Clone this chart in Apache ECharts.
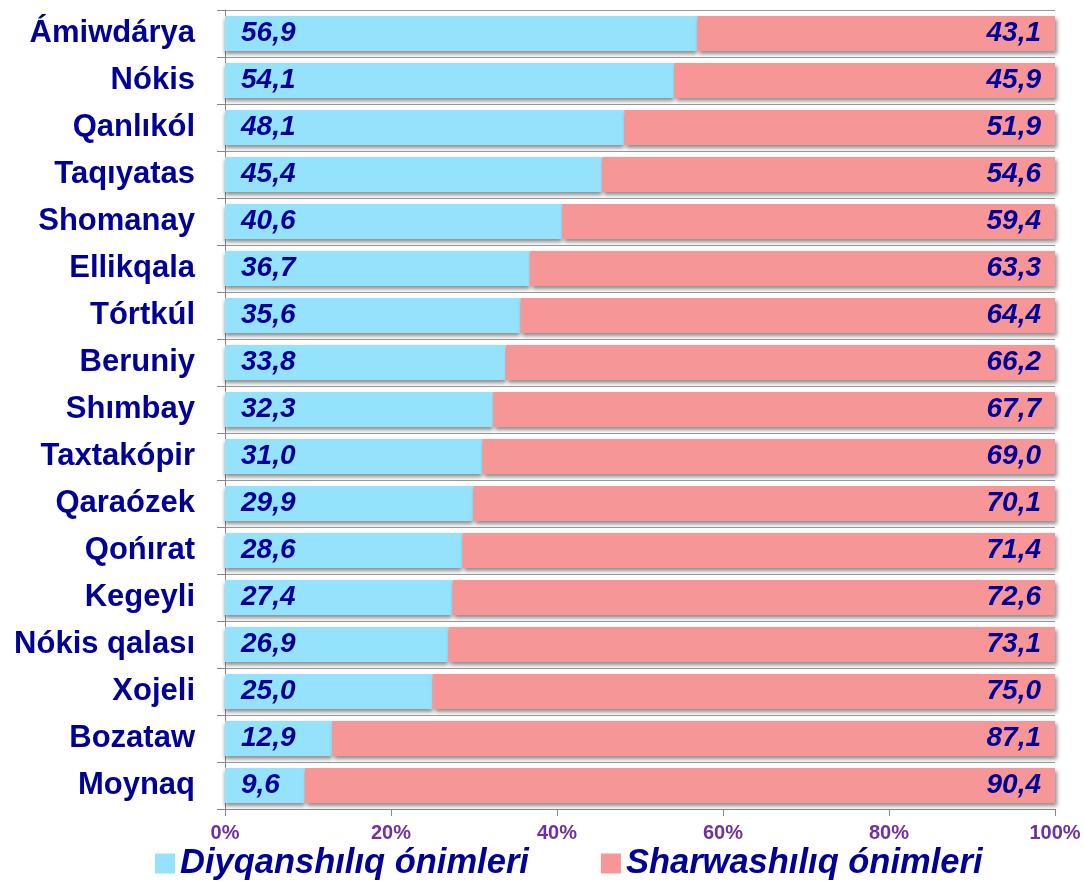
<!DOCTYPE html>
<html>
<head>
<meta charset="utf-8">
<script src="https://cdn.jsdelivr.net/npm/echarts@6/dist/echarts.min.js"></script>
<style>
  html, body { margin: 0; padding: 0; background: #fff; }
  #main { width: 1084px; height: 882px; }
</style>
</head>
<body>
<div id="main"></div>
<script>
var regions = ["Ámiwdárya", "Nókis", "Qanlıkól", "Taqıyatas", "Shomanay", "Ellikqala",
  "Tórtkúl", "Beruniy", "Shımbay", "Taxtakópir", "Qaraózek", "Qońırat", "Kegeyli",
  "Nókis qalası", "Xojeli", "Bozataw", "Moynaq"];
var diyqan = [56.9, 54.1, 48.1, 45.4, 40.6, 36.7, 35.6, 33.8, 32.3, 31.0, 29.9, 28.6, 27.4, 26.9, 25.0, 12.9, 9.6];
var sharwa = [43.1, 45.9, 51.9, 54.6, 59.4, 63.3, 64.4, 66.2, 67.7, 69.0, 70.1, 71.4, 72.6, 73.1, 75.0, 87.1, 90.4];
var seriesNames = ["Diyqanshılıq ónimleri", "Sharwashılıq ónimleri"];

var chart = echarts.init(document.getElementById("main"));

function fmt(p) {
  return p.value.toFixed(1).replace(".", ",");
}

var labelStyle = {
  show: true,
  color: "#000099",
  fontFamily: "Liberation Sans, Arial, sans-serif",
  fontWeight: "bold",
  fontStyle: "italic",
  fontSize: 28,
  formatter: fmt
};

var option = {
  animation: false,
  grid: { left: 225, right: 29, top: 10, bottom: 73 },
  legend: {
    left: 150,
    top: 841,
    itemWidth: 20,
    itemHeight: 20,
    itemGap: 72,
    icon: "rect",
    textStyle: {
      color: "#000099",
      fontFamily: "Liberation Sans, Arial, sans-serif",
      fontWeight: "bold",
      fontStyle: "italic",
      fontSize: 34.5
    },
    data: seriesNames
  },
  xAxis: {
    type: "value",
    min: 0,
    max: 100,
    interval: 20,
    axisLine: { show: true, lineStyle: { color: "#888" } },
    axisTick: { show: true, length: 7, lineStyle: { color: "#888" } },
    splitLine: { show: false },
    axisLabel: {
      formatter: "{value}%",
      color: "#7030A0",
      fontFamily: "Liberation Sans, Arial, sans-serif",
      fontWeight: "bold",
      fontSize: 20,
      margin: 14
    }
  },
  yAxis: {
    type: "category",
    inverse: true,
    data: regions,
    axisLine: { show: true, lineStyle: { color: "#888" } },
    axisTick: { show: true, length: 8, lineStyle: { color: "#888" } },
    splitLine: { show: true, lineStyle: { color: "#999", width: 1 } },
    axisLabel: {
      color: "#000099",
      fontFamily: "Liberation Sans, Arial, sans-serif",
      fontWeight: "bold",
      fontSize: 31,
      margin: 30,
      padding: [4, 0, 0, 0]
    }
  },
  series: [
    {
      name: seriesNames[0],
      type: "bar",
      stack: "total",
      data: diyqan,
      barWidth: 35,
      itemStyle: {
        color: "#94E2FB",
        shadowColor: "rgba(0,0,0,0.45)",
        shadowBlur: 4,
        shadowOffsetY: 3
      },
      label: Object.assign({ position: "insideLeft", distance: 16, padding: [3, 0, 0, 0] }, labelStyle)
    },
    {
      name: seriesNames[1],
      type: "bar",
      stack: "total",
      data: sharwa,
      barWidth: 35,
      itemStyle: {
        color: "#F79696",
        shadowColor: "rgba(0,0,0,0.45)",
        shadowBlur: 4,
        shadowOffsetY: 3,
        shadowOffsetX: 2
      },
      label: Object.assign({ position: "insideRight", distance: 14, padding: [3, 0, 0, 0] }, labelStyle)
    }
  ]
};

chart.setOption(option);
window.addEventListener("resize", function () {
  chart.resize();
});
</script>
</body>
</html>
